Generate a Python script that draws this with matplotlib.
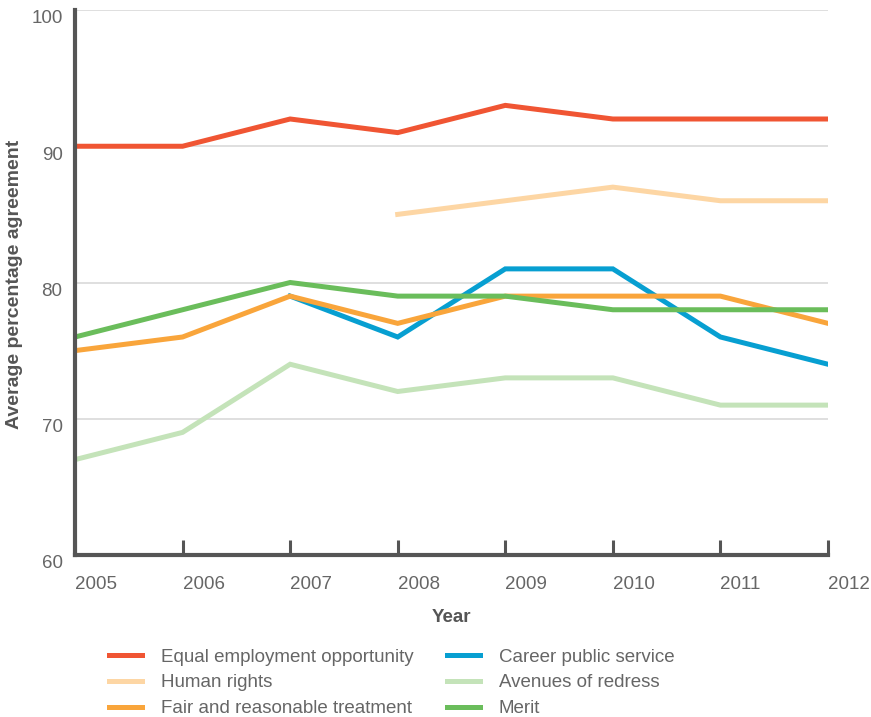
import matplotlib
matplotlib.use("Agg")
import matplotlib.pyplot as plt
from matplotlib.transforms import ScaledTranslation
from matplotlib.lines import Line2D

plt.rcParams['font.family'] = ['Liberation Sans', 'DejaVu Sans']

years = [2005, 2006, 2007, 2008, 2009, 2010, 2011, 2012]

equal_employment = [90, 90, 92, 91, 93, 92, 92, 92]
human_rights_years = [2008, 2009, 2010, 2011, 2012]
human_rights = [85, 86, 87, 86, 86]
fair_treatment = [75, 76, 79, 77, 79, 79, 79, 77]
career_years = [2007, 2008, 2009, 2010, 2011, 2012]
career_public_service = [79, 76, 81, 81, 76, 74]
avenues_of_redress = [67, 69, 74, 72, 73, 73, 71, 71]
merit = [76, 78, 80, 79, 79, 78, 78, 78]

y_ticks = [60, 70, 80, 90, 100]

C_EQUAL = '#f05533'
C_HUMAN = '#fdd6a4'
C_FAIR = '#f9a53b'
C_CAREER = '#079fd1'
C_AVENUE = '#c4e3b9'
C_MERIT = '#6abd5b'
TXT = '#666666'
AXC = '#555555'
FS = 13.5

fig = plt.figure(figsize=(8.71, 7.17), dpi=100)
ax = fig.add_axes([75/871, 1-555/717, (828-75)/871, (555-10)/717])

lw = 3.6
ax.plot(career_years, career_public_service, color=C_CAREER, lw=lw, solid_joinstyle='miter', zorder=3)
ax.plot(years, avenues_of_redress, color=C_AVENUE, lw=lw, solid_joinstyle='miter', zorder=3)
ax.plot(human_rights_years, human_rights, color=C_HUMAN, lw=lw, solid_joinstyle='miter', zorder=3)
ax.plot(years, fair_treatment, color=C_FAIR, lw=lw, solid_joinstyle='miter', zorder=4)
ax.plot(years, merit, color=C_MERIT, lw=lw, solid_joinstyle='miter', zorder=5)
ax.plot(years, equal_employment, color=C_EQUAL, lw=lw, solid_joinstyle='miter', zorder=5)

ax.set_xlim(2005, 2012)
ax.set_ylim(60, 100)
ax.set_yticks(y_ticks)
ax.set_xticks(years)
ax.set_xticklabels([str(y) for y in years])

for v in y_ticks[1:]:
    ax.axhline(v, color='#d9d9d9', lw=1.2, zorder=1)

for s in ['top', 'right']:
    ax.spines[s].set_visible(False)
for s in ['left', 'bottom']:
    ax.spines[s].set_color(AXC)
    ax.spines[s].set_linewidth(3)
    ax.spines[s].set_zorder(6)

ax.tick_params(axis='x', direction='in', length=11, width=2.2, color=AXC,
               labelsize=FS, labelcolor=TXT, pad=15)
ax.tick_params(axis='y', length=0, labelsize=FS, labelcolor=TXT, pad=9)

for lab in ax.get_xticklabels():
    lab.set_horizontalalignment('left')
for lab in ax.get_yticklabels():
    lab.set_transform(lab.get_transform() + ScaledTranslation(0, -5/72, fig.dpi_scale_trans))

ax.set_xlabel('Year', fontsize=FS, fontweight='bold', color=AXC, labelpad=12)
fig.text(15/871, 1-284/717, 'Average percentage agreement', rotation=90,
         ha='center', va='center', fontsize=14, fontweight='bold', color=AXC)

handles = [
    Line2D([], [], color=C_EQUAL, lw=lw),
    Line2D([], [], color=C_HUMAN, lw=lw),
    Line2D([], [], color=C_FAIR, lw=lw),
    Line2D([], [], color=C_CAREER, lw=lw),
    Line2D([], [], color=C_AVENUE, lw=lw),
    Line2D([], [], color=C_MERIT, lw=lw),
]
labels = ['Equal employment opportunity', 'Human rights', 'Fair and reasonable treatment',
          'Career public service', 'Avenues of redress', 'Merit']
leg = fig.legend(handles, labels, ncol=2, loc='upper left',
                 bbox_to_anchor=(100/871, 1-639/717), frameon=False,
                 fontsize=FS, labelcolor=TXT, handlelength=1.75, handletextpad=1.0,
                 columnspacing=1.8, labelspacing=0.47, borderpad=0)

fig.savefig('out.png', dpi=100)
